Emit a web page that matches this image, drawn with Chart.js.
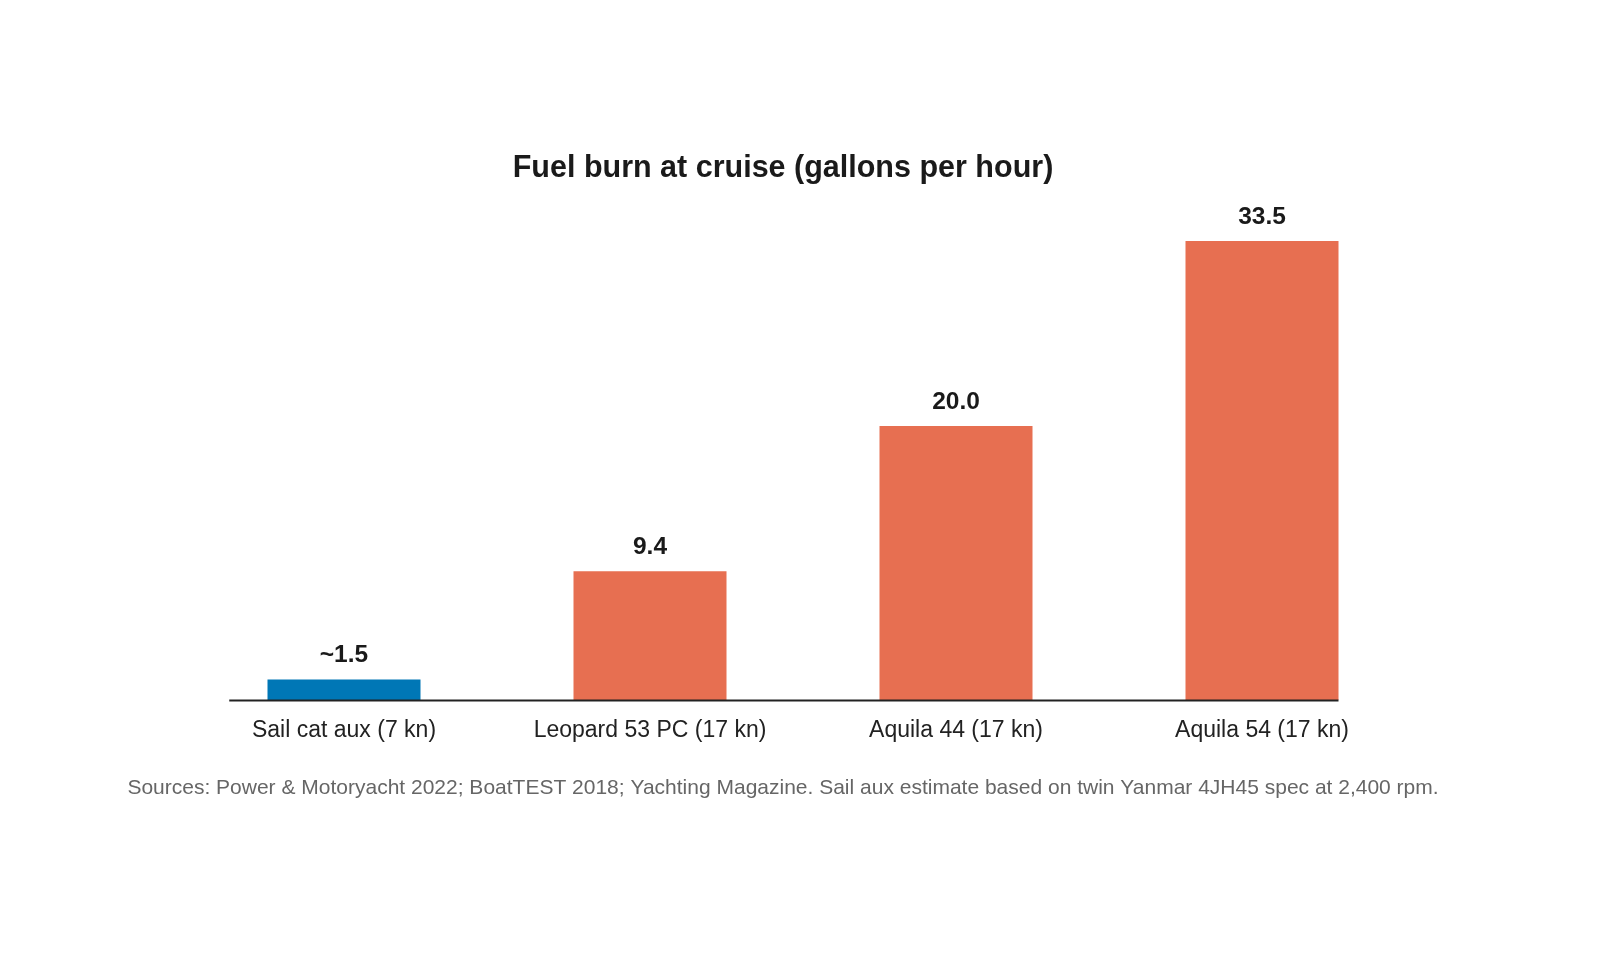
<!DOCTYPE html>
<html><head><meta charset="utf-8">
<script src="https://cdn.jsdelivr.net/npm/chart.js@4"></script>
<style>html,body{margin:0;padding:0;background:#fff}#w{width:1600px;height:960px}</style>
</head><body><div id="w"><canvas id="c" width="1600" height="960"></canvas></div>
<script>
const categories = ["Sail cat aux (7 kn)", "Leopard 53 PC (17 kn)", "Aquila 44 (17 kn)", "Aquila 54 (17 kn)"];
const values = [1.5, 9.4, 20.0, 33.5];
const valueLabels = ["~1.5", "9.4", "20.0", "33.5"];
const barColors = ["#0077b6", "#e76f51", "#e76f51", "#e76f51"];
const titleText = "Fuel burn at cruise (gallons per hour)";
const sourceText = "Sources: Power & Motoryacht 2022; BoatTEST 2018; Yachting Magazine. Sail aux estimate based on twin Yanmar 4JH45 spec at 2,400 rpm.";
const FONT = "Liberation Sans, Arial, Helvetica, sans-serif";

const deco = {
  id: 'deco',
  afterDatasetsDraw(chart) {
    const ctx = chart.ctx, x = chart.scales.x, y = chart.scales.y;
    const meta = chart.getDatasetMeta(0);
    ctx.save();
    const step = x.getPixelForValue(1) - x.getPixelForValue(0);
    const y0 = y.getPixelForValue(0);
    ctx.strokeStyle = '#222'; ctx.lineWidth = 2;
    ctx.beginPath();
    ctx.moveTo(x.getPixelForValue(0) - 0.375 * step, y0 + 0.5);
    ctx.lineTo(x.getPixelForValue(categories.length - 1) + 0.25 * step, y0 + 0.5);
    ctx.stroke();
    ctx.fillStyle = '#1a1a1a'; ctx.textAlign = 'center'; ctx.textBaseline = 'middle';
    ctx.font = 'bold 24.5px ' + FONT;
    meta.data.forEach((b, i) => ctx.fillText(valueLabels[i], b.x, b.y - 24));
    ctx.font = '23px ' + FONT; ctx.fillStyle = '#222';
    categories.forEach((c, i) => ctx.fillText(c, x.getPixelForValue(i), y0 + 31));
    ctx.font = 'bold 30.5px ' + FONT; ctx.fillStyle = '#1a1a1a';
    ctx.fillText(titleText, 783, 169);
    ctx.font = '21px ' + FONT; ctx.fillStyle = '#666';
    ctx.fillText(sourceText, 783, 788);
    ctx.restore();
  }
};

new Chart(document.getElementById('c'), {
  type: 'bar',
  data: { labels: categories, datasets: [{ data: values, backgroundColor: barColors, barPercentage: 0.5, categoryPercentage: 1.0 }] },
  options: {
    responsive: false, animation: false, devicePixelRatio: 1,
    layout: { padding: { left: 191, right: 185, top: 200, bottom: 260 } },
    plugins: { legend: { display: false }, tooltip: { enabled: false } },
    scales: {
      x: { display: false },
      y: { display: false, min: 0, max: 36.5 }
    }
  },
  plugins: [deco]
});
</script></body></html>
